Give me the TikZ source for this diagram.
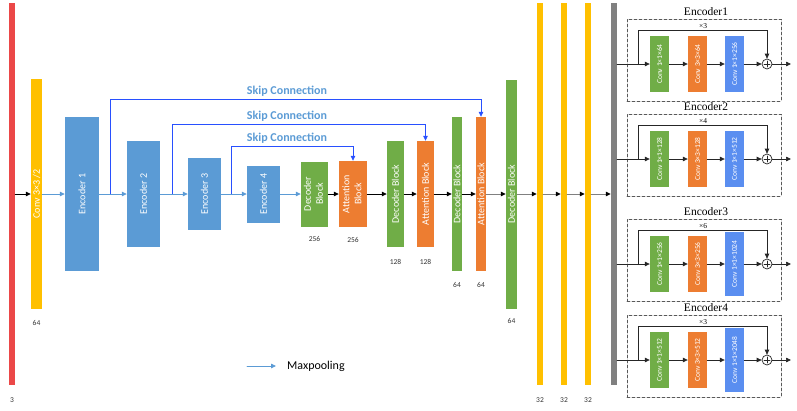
\documentclass[tikz,border=0pt]{standalone}
\usepackage{fontspec}
\setmainfont{Carlito}
\newfontfamily\titlefont{Liberation Serif}
\usepackage{graphicx}
\usetikzlibrary{arrows.meta,positioning}

\definecolor{barred}{RGB}{235,72,72}
\definecolor{baryellow}{RGB}{255,192,0}
\definecolor{encblue}{RGB}{91,155,213}
\definecolor{decgreen}{RGB}{112,173,71}
\definecolor{attorange}{RGB}{237,125,49}
\definecolor{bargray}{RGB}{128,128,128}
\definecolor{skipblue}{RGB}{40,80,255}
\definecolor{panelblue}{RGB}{90,142,240}

\begin{document}
\begin{tikzpicture}[x=1pt,y=-1pt,line cap=round,
  blk/.style={draw=none,inner sep=0pt,text=white,font=\fontsize{10}{12}\selectfont},
  num/.style={inner sep=0pt,text=black!80,font=\fontsize{7.5}{9}\selectfont},
  arr/.style={black,line width=.8pt,-{Triangle[length=5pt,width=4.5pt]}},
  parr/.style={encblue,line width=.8pt,-{Triangle[length=5pt,width=4.5pt]}},
  garr/.style={bargray,line width=1pt,-{Triangle[length=5pt,width=4.5pt,color=black]}},
  skip/.style={skipblue,line width=.8pt,line cap=butt,-{Triangle[length=5pt,width=4.5pt]}},
  skiplbl/.style={inner sep=0pt,text=encblue,font=\bfseries\fontsize{12}{14}\selectfont},
  dashbox/.style={draw=black!65,line width=.6pt,dash pattern=on 3pt off 2pt,minimum width=154,minimum height=82,inner sep=0pt},
  ttl/.style={inner sep=0pt,font=\titlefont\fontsize{11.5}{12}\selectfont},
  reps/.style={inner sep=0pt,font=\titlefont\fontsize{7.5}{8}\selectfont},
  cbox/.style={draw=none,inner sep=0pt,minimum width=19,minimum height=56,text=white,font=\fontsize{7.5}{8}\selectfont},
  pline/.style={black!85,line width=.7pt,-{Triangle[length=5pt,width=4.5pt]}},
  sum/.style={circle,draw=black!85,line width=.7pt,fill=white,inner sep=0pt,minimum size=10pt,
    path picture={\draw[line width=.6pt] ([xshift=-3pt]path picture bounding box.center) -- ([xshift=3pt]path picture bounding box.center)
      ([yshift=-3pt]path picture bounding box.center) -- ([yshift=3pt]path picture bounding box.center);}}]
  \useasboundingbox (0,0) rectangle (797,410);

  % main network
  \node[blk,fill=barred,minimum width=6,minimum height=382] (inp) at (12,194) {};
  \node[blk,fill=baryellow,minimum width=11,minimum height=230] (conv) at (36.5,194) {\rotatebox{90}{Conv 3×3 /2}};
  \node[blk,fill=encblue,minimum width=34,minimum height=154] (enc1) at (82,194) {\rotatebox{90}{Encoder 1}};
  \node[blk,fill=encblue,minimum width=33,minimum height=106] (enc2) at (143.5,194) {\rotatebox{90}{Encoder 2}};
  \node[blk,fill=encblue,minimum width=33,minimum height=72] (enc3) at (204.5,194) {\rotatebox{90}{Encoder 3}};
  \node[blk,fill=encblue,minimum width=33,minimum height=57] (enc4) at (263.5,194) {\rotatebox{90}{Encoder 4}};
  \node[blk,fill=decgreen,minimum width=27,minimum height=65] (dec1) at (314.5,194) {\rotatebox{90}{\begin{tabular}{@{}c@{}}Decoder\\Block\end{tabular}}};
  \node[blk,fill=attorange,minimum width=28,minimum height=66] (att1) at (353,194) {\rotatebox{90}{\begin{tabular}{@{}c@{}}Attention\\Block\end{tabular}}};
  \node[blk,fill=decgreen,minimum width=17,minimum height=106] (dec2) at (395.5,194) {\rotatebox{90}{Decoder Block}};
  \node[blk,fill=attorange,minimum width=17,minimum height=106] (att2) at (425.5,194) {\rotatebox{90}{Attention Block}};
  \node[blk,fill=decgreen,minimum width=10,minimum height=154] (dec3) at (457,194) {\rotatebox{90}{Decoder Block}};
  \node[blk,fill=attorange,minimum width=10,minimum height=154] (att3) at (481,194) {\rotatebox{90}{Attention Block}};
  \node[blk,fill=decgreen,minimum width=11,minimum height=229] (dec4) at (511.5,194) {\rotatebox{90}{Decoder Block}};
  \node[blk,fill=baryellow,minimum width=6,minimum height=382] (up1) at (540,194) {};
  \node[blk,fill=baryellow,minimum width=6,minimum height=382] (up2) at (564,194) {};
  \node[blk,fill=baryellow,minimum width=6,minimum height=382] (up3) at (588,194) {};
  \node[blk,fill=bargray,minimum width=6,minimum height=382] (res) at (614,194) {};

  % channel numbers
  \node[num,below=12pt of inp] (n0) {3};
  \node[num,below=11pt of conv] (n1) {64};
  \node[num,below=10pt of dec1] (n2) {256};
  \node[num,below=10pt of att1] (n3) {256};
  \node[num,below=12pt of dec2] (n4) {128};
  \node[num,below=12pt of att2] (n5) {128};
  \node[num,below=11pt of dec3] (n6) {64};
  \node[num,below=11pt of att3] (n7) {64};
  \node[num,below=10pt of dec4] (n8) {64};
  \node[num,below=12pt of up1] (n9) {32};
  \node[num,below=12pt of up2] (n10) {32};
  \node[num,below=12pt of up3] (n11) {32};

  \draw[arr] (inp) -- (conv);
  \draw[parr] (conv) -- (enc1);
  \draw[parr] (enc1) -- (enc2);
  \draw[parr] (enc2) -- (enc3);
  \draw[parr] (enc3) -- (enc4);
  \draw[parr] (enc4) -- (dec1);
  \draw[arr] (dec1) -- (att1);
  \draw[arr] (att1) -- (dec2);
  \draw[arr] (dec2) -- (att2);
  \draw[arr] (att2) -- (dec3);
  \draw[arr] (dec3) -- (att3);
  \draw[garr] (att3) -- (dec4);
  \draw[garr] (dec4) -- (up1);
  \draw[garr] (up1) -- (up2);
  \draw[garr] (up2) -- (up3);
  \draw[garr] (up3) -- (res);

  % skip connections
  \coordinate (s1) at (110,194);
  \coordinate (s2) at (172,194);
  \coordinate (s3) at (231,194);
  \draw[skip] (s1) -- ++(0,-95) -| (att3.north);
  \draw[skip] (s2) -- ++(0,-70) -| (att2.north);
  \draw[skip] (s3) -- ++(0,-48) -| (att1.north);
  \node[skiplbl] (sk1) at (287,91) {Skip Connection};
  \node[skiplbl] (sk2) at (287,116) {Skip Connection};
  \node[skiplbl] (sk3) at (287,138) {Skip Connection};

  % legend
  \coordinate (mp0) at (247,366);
  \coordinate (mp1) at (276,366);
  \draw[parr] (mp0) -- (mp1);
  \node[inner sep=0pt,anchor=west,font=\fontsize{12}{14}\selectfont,right=11pt of mp1] (mpl) {Maxpooling};

  % encoder panels
  \foreach \i/\m/\nm/\rep/\ca/\cb/\cc/\bh in {1/64/Encoder1/3/64/64/256/56,2/159/Encoder2/4/128/128/512/56,
      3/264/Encoder3/6/256/256/1024/64,4/360/Encoder4/3/512/512/2048/64}{
    \node[dashbox] (box\i) at (704,\m-4) {};
    \node[ttl] (ttl\i) at (706,\m-52) {\nm};
    \node[cbox,fill=decgreen] (ca\i) at (659.5,\m) {\rotatebox{90}{Conv 1×1×\ca}};
    \node[cbox,fill=attorange] (cb\i) at (697.5,\m) {\rotatebox{90}{Conv 3×3×\cb}};
    \node[cbox,fill=panelblue,minimum height=\bh] (cc\i) at (734.5,\m) {\rotatebox{90}{Conv 1×1×\cc}};
    \node[sum] (sum\i) at (767,\m) {};
    \coordinate (pin\i) at (617,\m);
    \coordinate (fork\i) at (638,\m);
    \coordinate (pout\i) at (791,\m);
    \draw[pline] (pin\i) -- (ca\i);
    \draw[pline] (ca\i) -- (cb\i);
    \draw[pline] (cb\i) -- (cc\i);
    \draw[pline] (cc\i) -- (sum\i);
    \draw[pline] (sum\i) -- (pout\i);
    \draw[pline,line cap=butt] (fork\i) -- ++(0,-34) -| (sum\i.north);
    \node[reps] (rep\i) at (703,\m-38) {×\rep};
  }
\end{tikzpicture}
\end{document}
